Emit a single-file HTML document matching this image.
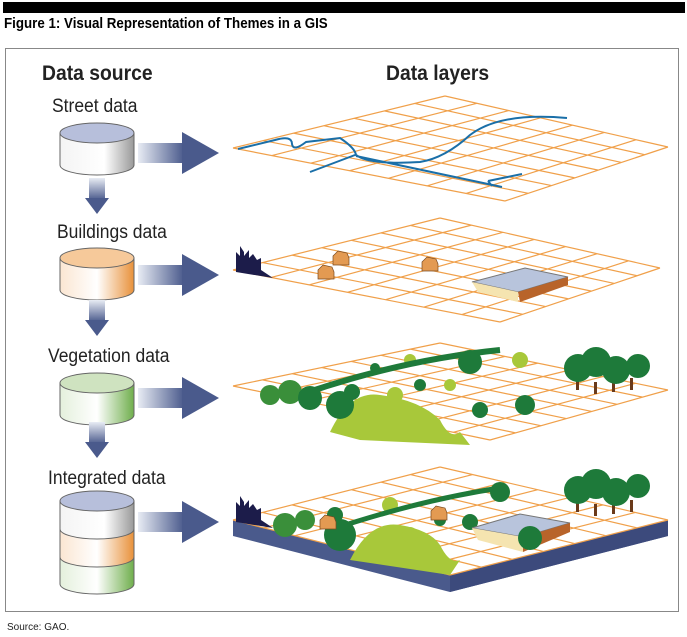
<!DOCTYPE html>
<html><head><meta charset="utf-8"><style>
body{margin:0;width:687px;height:637px;background:#fff;font-family:"Liberation Sans",sans-serif;position:relative;overflow:hidden}
.t{position:absolute;white-space:nowrap}
</style></head><body>
<div style="position:absolute;left:3px;top:2px;width:682px;height:11px;background:#000"></div>
<div class="t" style="left:4px;top:16px;font-size:14.5px;font-weight:bold;transform:scaleX(0.92);transform-origin:left">Figure 1: Visual Representation of Themes in a GIS</div>
<div style="position:absolute;left:5px;top:48px;width:672px;height:562px;border:1px solid #888"></div>
<div class="t" style="left:42px;top:62px;font-size:21px;font-weight:bold;color:#222;transform:scaleX(0.92);transform-origin:left">Data source</div>
<div class="t" style="left:386px;top:62px;font-size:21px;font-weight:bold;color:#222;transform:scaleX(0.92);transform-origin:left">Data layers</div>
<div class="t" style="left:52px;top:96px;font-size:19px;color:#222;transform:scaleX(0.92);transform-origin:left">Street data</div>
<div class="t" style="left:57px;top:222px;font-size:19px;color:#222;transform:scaleX(0.92);transform-origin:left">Buildings data</div>
<div class="t" style="left:48px;top:346px;font-size:19px;color:#222;transform:scaleX(0.92);transform-origin:left">Vegetation data</div>
<div class="t" style="left:48px;top:468px;font-size:19px;color:#222;transform:scaleX(0.92);transform-origin:left">Integrated data</div>
<div class="t" style="left:7px;top:622px;font-size:10px;color:#222">Source: GAO.</div>
<svg id="s" width="687" height="637" style="position:absolute;left:0;top:0">
<defs>
<linearGradient id="ha" x1="0" x2="1"><stop offset="0" stop-color="#e8ecf4"/><stop offset="1" stop-color="#4a5a8c"/></linearGradient>
<linearGradient id="va" x1="0" y1="0" x2="0" y2="1"><stop offset="0" stop-color="#e8ecf4"/><stop offset="1" stop-color="#4a5a8c"/></linearGradient>
<linearGradient id="c1" x1="0" x2="1"><stop offset="0" stop-color="#f4f4f4"/><stop offset=".6" stop-color="#fff"/><stop offset="1" stop-color="#999"/></linearGradient>
<linearGradient id="c2" x1="0" x2="1"><stop offset="0" stop-color="#fbe6d2"/><stop offset=".5" stop-color="#fff"/><stop offset="1" stop-color="#e8913a"/></linearGradient>
<linearGradient id="c3" x1="0" x2="1"><stop offset="0" stop-color="#e4f0dc"/><stop offset=".5" stop-color="#fff"/><stop offset="1" stop-color="#6fae4c"/></linearGradient>
</defs>
<g id="g"></g>
</svg>
<script>
var g=document.getElementById('g'),h='';
function cyl(x,y,hh,fill,top){h+='<path d="M'+x+' '+y+' v'+hh+' a37 10 0 0 0 74 0 v-'+hh+'" fill="'+fill+'" stroke="#666"/>';if(top)h+='<ellipse cx="'+(x+37)+'" cy="'+y+'" rx="37" ry="10" fill="'+top+'" stroke="#666"/>';}
function harr(y){h+='<rect x="138" y="'+(y-10)+'" width="46" height="20" fill="url(#ha)"/><polygon points="182,'+(y-21)+' 219,'+y+' 182,'+(y+21)+'" fill="#4a5a8c"/>';}
function varr(y){h+='<rect x="89" y="'+y+'" width="16" height="22" fill="url(#va)"/><polygon points="85,'+(y+20)+' 109,'+(y+20)+' 97,'+(y+36)+'" fill="#4a5a8c"/>';}
cyl(60,133,32,'url(#c1)','#b7bfdb');harr(153);varr(178);
cyl(60,258,32,'url(#c2)','#f6c99a');harr(275);varr(300);
cyl(60,383,32,'url(#c3)','#cfe3c0');harr(398);varr(422);
cyl(60,557,27,'url(#c3)');cyl(60,529,28,'url(#c2)');cyl(60,501,28,'url(#c1)','#b7bfdb');harr(522);
function lerp(a,b,t){return[a[0]+(b[0]-a[0])*t,a[1]+(b[1]-a[1])*t];}
function grid(L,T,R,B,n,m){var s='';for(var i=0;i<=n;i++){var a=lerp(L,T,i/n),b=lerp(B,R,i/n);s+='M'+a+'L'+b;}for(var j=0;j<=m;j++){var a=lerp(L,B,j/m),b=lerp(T,R,j/m);s+='M'+a+'L'+b;}h+='<path d="'+s+'" stroke="#f0a04a" stroke-width="1.2" fill="none"/>';}
grid([233,148],[445,96],[668,147],[505,201],7,7);
h+='<path d="M238 149 L275 140 Q292 135 292 144 Q293 152 306 142 L340 138 Q355 148 356 155 Q370 165 420 162 Q445 158 470 135 Q500 112 567 118 M355 155 L310 172 M356 156 L502 187 M488 181 L522 174 M488 181 L492 186" stroke="#1a6fa8" stroke-width="2" fill="none"/>';
grid([233,270],[440,218],[660,268],[500,322],7,7);
h+='<path d="M236 272 v-20 l4 4 v-10 l4 6 v4 l5 -6 v8 l4 -4 l4 6 l4 -2 v12 l12 8 z" fill="#1c1c4a"/>';
h+='<polygon points="472,282 525,268 568,277 518,292" fill="#b8c4dc" stroke="#777"/><polygon points="472,282 518,292 518,302 478,292" fill="#f5e4b0"/><polygon points="518,292 568,277 568,285 520,302" fill="#b8642a"/>';
function house(x,y){h+='<polygon points="'+x+','+(y-4)+' '+(x+5)+','+(y-9)+' '+(x+14)+','+(y-7)+' '+(x+16)+','+(y-2)+' '+(x+16)+','+(y+5)+' '+x+','+(y+5)+'" fill="#e39a52" stroke="#7a4a20" stroke-width=".7"/>';}
house(318,274);house(333,260);house(422,266);
grid([233,386],[440,343],[668,390],[490,440],7,7);
function tree(x,y,r,c){h+='<circle cx="'+x+'" cy="'+y+'" r="'+r+'" fill="'+c+'"/>';}
function trunk(x,y){h+='<rect x="'+x+'" y="'+y+'" width="3" height="12" fill="#6a3a1a"/>';}
var dg='#1e7a3a',lg='#a8c83a',mg='#3a8f3a';
h+='<path d="M330 432 Q350 390 380 395 Q420 400 440 420 Q450 440 460 432 L470 445 L360 440 Z" fill="'+lg+'"/>';
[[576,378],[594,382],[612,380],[630,378]].forEach(function(t){trunk(t[0],t[1]);});
[[270,395,10,mg],[290,392,12,mg],[310,398,12,dg],[340,405,14,dg],[352,392,8,dg],[395,395,8,lg],[420,385,6,dg],[450,385,6,lg],[480,410,8,dg],[525,405,10,dg],[470,362,12,dg],[520,360,8,lg],[578,368,14,dg],[596,362,15,dg],[616,370,14,dg],[638,366,12,dg],[410,360,6,lg],[375,368,5,dg]].forEach(function(t){tree(t[0],t[1],t[2],t[3]);});
h+='<path d="M300 395 Q400 360 500 350" stroke="'+dg+'" stroke-width="6" fill="none"/>';
h+='<polygon points="233,520 450,575 668,520 668,536 450,592 233,536" fill="#4a5a8c"/><polygon points="450,575 668,520 668,536 450,592" fill="#3c4a7c"/>';
h+='<polygon points="233,520 440,467 668,520 450,575" fill="#fff"/>';
grid([233,520],[440,467],[668,520],[450,575],7,7);
h+='<path d="M236 522 v-20 l4 4 v-10 l4 6 v4 l5 -6 v8 l4 -4 l4 6 l4 -2 v12 l12 8 z" fill="#1c1c4a"/>';
h+='<path d="M350 560 Q370 520 400 525 Q430 530 440 545 Q450 565 460 560 L450 575 Z" fill="'+lg+'"/>';
[[576,500],[594,504],[612,502],[630,500]].forEach(function(t){trunk(t[0],t[1]);});
[[285,525,12,mg],[305,520,10,mg],[340,535,16,dg],[335,515,8,dg],[410,535,8,lg],[440,520,6,dg],[390,505,8,lg],[470,522,8,dg],[578,490,14,dg],[596,484,15,dg],[616,492,14,dg],[638,486,12,dg],[500,492,10,dg]].forEach(function(t){tree(t[0],t[1],t[2],t[3]);});
h+='<path d="M330 530 Q420 500 500 488" stroke="'+dg+'" stroke-width="5" fill="none"/>';
h+='<polygon points="472,528 520,514 570,523 523,537" fill="#b8c4dc" stroke="#777"/><polygon points="472,528 523,537 523,552 478,540" fill="#f5e4b0"/><polygon points="523,537 570,523 570,532 523,552" fill="#b8642a"/>';
tree(530,538,12,dg);
house(320,524);house(431,515);
g.innerHTML=h;
</script>
</body></html>
